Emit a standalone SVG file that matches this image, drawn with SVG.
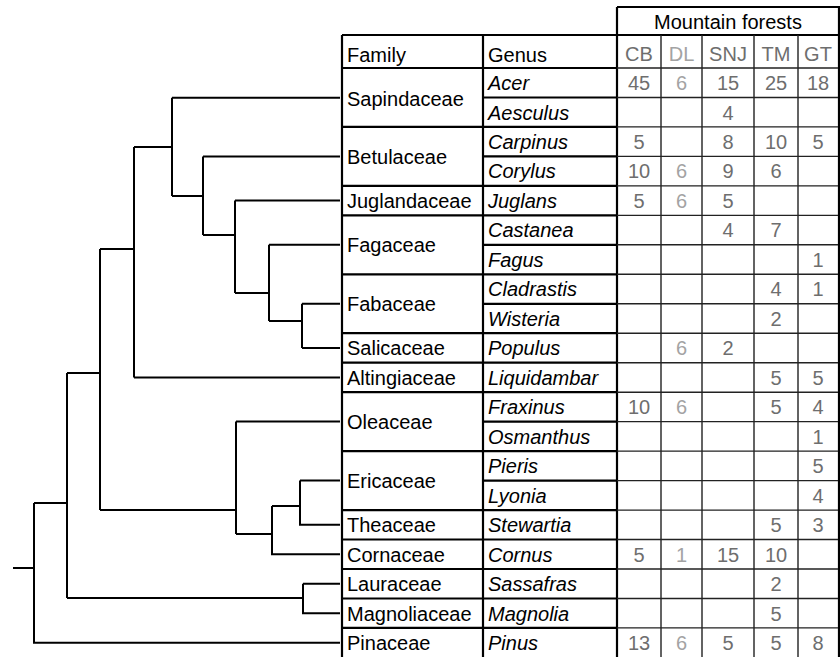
<svg xmlns="http://www.w3.org/2000/svg" width="840" height="657" viewBox="0 0 840 657">
<style>
text{font-family:"Liberation Sans",Arial,sans-serif;font-size:20px;fill:#000}
.g{font-style:italic}
.d{fill:#6e6e6e;text-anchor:middle}
.l{fill:#a3a3a3;text-anchor:middle}
.t{stroke:#000;stroke-width:2;fill:none}
.k{stroke:#000;stroke-width:2.2;fill:none}
.s{stroke:#222;stroke-width:1.4;fill:none}
</style>
<rect width="840" height="657" fill="#fff"/>
<g id="connectors" class="t">
<path d="M172,97.7H340M172,97.7V196M203,156.4H340M203,156.4V235M172,196H203"/>
<path d="M235,200.6H340M235,200.6V293M203,235H235"/>
<path d="M269,244.8H340M269,244.8V321M235,293H269"/>
<path d="M302,303.8H340M302,303.8V348M302,348H340M269,321H302"/>
<path d="M134,147H172M134,147V377.5M134,377.5H340M100,249H134"/>
<path d="M236,421.6H340M236,421.6V534M300,480.6H340M300,480.6V524.8H340M272,506H300M272,506V554.3H340M236,534H272"/>
<path d="M100,249V510M100,510H236M67,373H100"/>
<path d="M303,583.8H340M303,583.8V613.2H340M67,598H303M67,373V598M34,503H67"/>
<path d="M34,503V642.7H340M13,568H34"/>
</g>
<g id="table-grid">
<path class="k" d="M617,7H839V657M617,7V657M342,35H839M342,35V657M483,35V657"/>
<path class="k" d="M342,68H617M342,126.9H617M342,185.9H617M342,215.4H617M342,274.3H617M342,333.2H617M342,362.7H617M342,392.2H617M342,451.1H617M342,510.1H617M342,539.5H617M342,569H617M342,598.5H617M342,627.9H617"/>
<path class="k" d="M483,97.5H617M483,156.4H617M483,244.8H617M483,303.8H617M483,421.6H617M483,480.6H617"/>
<path class="s" d="M617,68H838M617,97.5H838M617,126.9H838M617,156.4H838M617,185.9H838M617,215.4H838M617,244.8H838M617,274.3H838M617,303.8H838M617,333.2H838M617,362.7H838M617,392.2H838M617,421.6H838M617,451.1H838M617,480.6H838M617,510.1H838M617,539.5H838M617,569H838M617,598.5H838M617,627.9H838"/>
<path class="s" d="M661,35V657M702,35V657M754,35V657M798,35V657"/>
</g>
<g id="header">
<text x="728" y="28.5" text-anchor="middle">Mountain forests</text>
<text x="347" y="61.5">Family</text>
<text x="488" y="61.5">Genus</text>
<text class="d" x="639" y="61">CB</text>
<text class="l" x="681.5" y="61">DL</text>
<text class="d" x="728" y="61">SNJ</text>
<text class="d" x="776" y="61">TM</text>
<text class="d" x="818" y="61">GT</text>
</g>
<g id="sapindaceae">
<text x="347" y="105.5">Sapindaceae</text>
<text class="g" x="488" y="90">Acer</text>
<text class="d" x="639" y="90">45</text><text class="l" x="681.5" y="90">6</text><text class="d" x="728" y="90">15</text><text class="d" x="776" y="90">25</text><text class="d" x="818" y="90">18</text>
<text class="g" x="488" y="119.5">Aesculus</text>
<text class="d" x="728" y="119.5">4</text>
</g>
<g id="betulaceae">
<text x="347" y="163.7">Betulaceae</text>
<text class="g" x="488" y="149">Carpinus</text>
<text class="d" x="639" y="149">5</text><text class="d" x="728" y="149">8</text><text class="d" x="776" y="149">10</text><text class="d" x="818" y="149">5</text>
<text class="g" x="488" y="178.4">Corylus</text>
<text class="d" x="639" y="178.4">10</text><text class="l" x="681.5" y="178.4">6</text><text class="d" x="728" y="178.4">9</text><text class="d" x="776" y="178.4">6</text>
</g>
<g id="juglandaceae">
<text x="347" y="207.9">Juglandaceae</text>
<text class="g" x="488" y="207.9">Juglans</text>
<text class="d" x="639" y="207.9">5</text><text class="l" x="681.5" y="207.9">6</text><text class="d" x="728" y="207.9">5</text>
</g>
<g id="fagaceae">
<text x="347" y="252.1">Fagaceae</text>
<text class="g" x="488" y="237.4">Castanea</text>
<text class="d" x="728" y="237.4">4</text><text class="d" x="776" y="237.4">7</text>
<text class="g" x="488" y="266.9">Fagus</text>
<text class="d" x="818" y="266.9">1</text>
</g>
<g id="fabaceae">
<text x="347" y="311.1">Fabaceae</text>
<text class="g" x="488" y="296.3">Cladrastis</text>
<text class="d" x="776" y="296.3">4</text><text class="d" x="818" y="296.3">1</text>
<text class="g" x="488" y="325.8">Wisteria</text>
<text class="d" x="776" y="325.8">2</text>
</g>
<g id="salicaceae">
<text x="347" y="355.3">Salicaceae</text>
<text class="g" x="488" y="355.3">Populus</text>
<text class="l" x="681.5" y="355.3">6</text><text class="d" x="728" y="355.3">2</text>
</g>
<g id="altingiaceae">
<text x="347" y="384.8">Altingiaceae</text>
<text class="g" x="488" y="384.8">Liquidambar</text>
<text class="d" x="776" y="384.8">5</text><text class="d" x="818" y="384.8">5</text>
</g>
<g id="oleaceae">
<text x="347" y="428.9">Oleaceae</text>
<text class="g" x="488" y="414.2">Fraxinus</text>
<text class="d" x="639" y="414.2">10</text><text class="l" x="681.5" y="414.2">6</text><text class="d" x="776" y="414.2">5</text><text class="d" x="818" y="414.2">4</text>
<text class="g" x="488" y="443.7">Osmanthus</text>
<text class="d" x="818" y="443.7">1</text>
</g>
<g id="ericaceae">
<text x="347" y="487.9">Ericaceae</text>
<text class="g" x="488" y="473.2">Pieris</text>
<text class="d" x="818" y="473.2">5</text>
<text class="g" x="488" y="502.6">Lyonia</text>
<text class="d" x="818" y="502.6">4</text>
</g>
<g id="theaceae">
<text x="347" y="532.1">Theaceae</text>
<text class="g" x="488" y="532.1">Stewartia</text>
<text class="d" x="776" y="532.1">5</text><text class="d" x="818" y="532.1">3</text>
</g>
<g id="cornaceae">
<text x="347" y="561.6">Cornaceae</text>
<text class="g" x="488" y="561.6">Cornus</text>
<text class="d" x="639" y="561.6">5</text><text class="l" x="681.5" y="561.6">1</text><text class="d" x="728" y="561.6">15</text><text class="d" x="776" y="561.6">10</text>
</g>
<g id="lauraceae">
<text x="347" y="591.1">Lauraceae</text>
<text class="g" x="488" y="591.1">Sassafras</text>
<text class="d" x="776" y="591.1">2</text>
</g>
<g id="magnoliaceae">
<text x="347" y="620.5">Magnoliaceae</text>
<text class="g" x="488" y="620.5">Magnolia</text>
<text class="d" x="776" y="620.5">5</text>
</g>
<g id="pinaceae">
<text x="347" y="650">Pinaceae</text>
<text class="g" x="488" y="650">Pinus</text>
<text class="d" x="639" y="650">13</text><text class="l" x="681.5" y="650">6</text><text class="d" x="728" y="650">5</text><text class="d" x="776" y="650">5</text><text class="d" x="818" y="650">8</text>
</g>
</svg>
